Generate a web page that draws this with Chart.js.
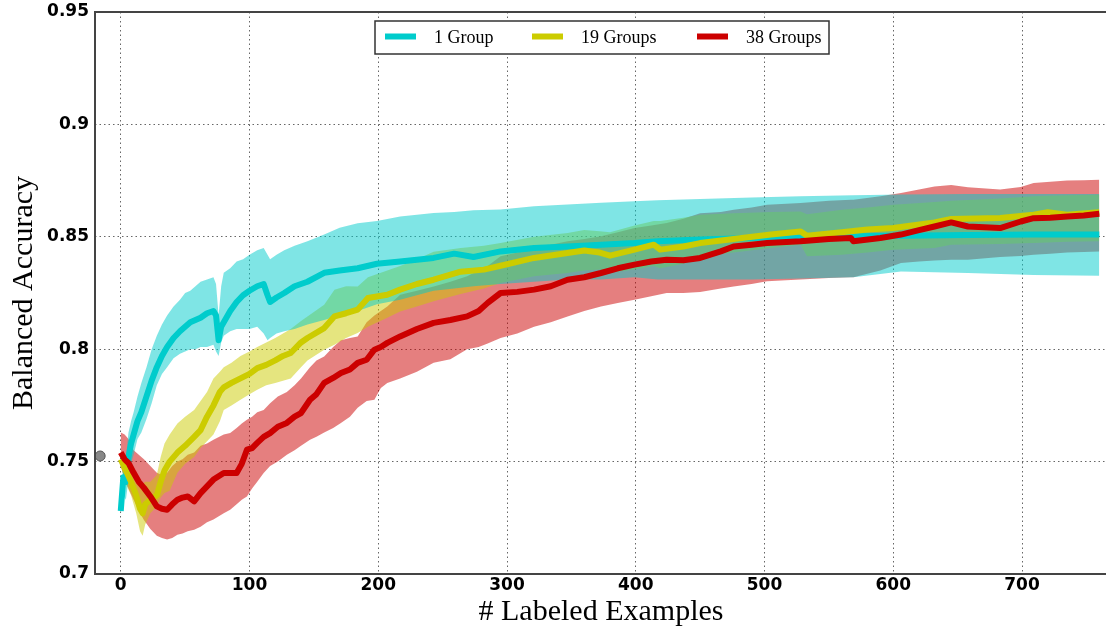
<!DOCTYPE html>
<html>
<head>
<meta charset="utf-8">
<title>Balanced Accuracy</title>
<script src="https://cdn.jsdelivr.net/npm/chart.js@4.4.0/dist/chart.umd.min.js"></script>
<style>
html, body { margin: 0; padding: 0; background: #fff; overflow: hidden; }
#wrap { width: 1106px; height: 630px; overflow: hidden; }
</style>
</head>
<body>
<!-- the original figure is cut off at its right edge, so the canvas runs a few px past the window -->
<div id="wrap"><canvas id="accChart" width="1113" height="630"></canvas></div>
<script>
// values
var xTicks = [0, 100, 200, 300, 400, 500, 600, 700];
var yTicks = [0.7, 0.75, 0.8, 0.85, 0.9, 0.95];
var seriesNames = ['1 Group', '19 Groups', '38 Groups'];

// 1 Group
var oneX    = [0, 2, 4, 6, 8, 10, 13, 16, 20, 24, 28, 32, 36, 41, 46, 50, 54, 58, 62, 67, 72, 74, 76, 78, 80, 85, 90, 95, 100, 106, 111, 114, 116, 121, 127, 135, 145, 158, 170, 184, 199, 217, 243, 259, 274, 295, 321, 347, 373, 399, 417, 450, 490, 528, 569, 606, 658, 709, 760];
var oneMean = [0.728, 0.743, 0.741, 0.752, 0.758, 0.762, 0.768, 0.772, 0.779, 0.786, 0.792, 0.797, 0.801, 0.805, 0.808, 0.810, 0.812, 0.813, 0.814, 0.816, 0.817, 0.815, 0.804, 0.810, 0.812, 0.817, 0.821, 0.824, 0.826, 0.828, 0.829, 0.824, 0.821, 0.823, 0.825, 0.828, 0.830, 0.834, 0.835, 0.836, 0.838, 0.839, 0.8406, 0.8425, 0.841, 0.8435, 0.845, 0.8457, 0.8465, 0.8472, 0.848, 0.8488, 0.8495, 0.850, 0.8503, 0.8505, 0.8508, 0.851, 0.851];
var oneLow  = [0.726, 0.735, 0.733, 0.742, 0.749, 0.753, 0.760, 0.763, 0.769, 0.776, 0.784, 0.789, 0.792, 0.796, 0.798, 0.799, 0.800, 0.800, 0.801, 0.801, 0.802, 0.799, 0.797, 0.803, 0.806, 0.808, 0.809, 0.809, 0.809, 0.810, 0.807, 0.804, 0.805, 0.807, 0.808, 0.809, 0.811, 0.813, 0.815, 0.817, 0.820, 0.822, 0.826, 0.827, 0.828, 0.829, 0.830, 0.831, 0.831, 0.832, 0.831, 0.831, 0.831, 0.8315, 0.832, 0.8346, 0.8339, 0.833, 0.8327];
var oneHigh = [0.731, 0.750, 0.752, 0.763, 0.768, 0.772, 0.779, 0.785, 0.792, 0.800, 0.806, 0.811, 0.815, 0.819, 0.822, 0.825, 0.826, 0.828, 0.830, 0.831, 0.832, 0.829, 0.815, 0.828, 0.834, 0.836, 0.839, 0.840, 0.842, 0.844, 0.845, 0.842, 0.840, 0.842, 0.844, 0.846, 0.848, 0.851, 0.854, 0.856, 0.857, 0.859, 0.8606, 0.861, 0.8618, 0.8621, 0.8636, 0.8644, 0.8651, 0.8658, 0.8663, 0.8668, 0.8675, 0.868, 0.8685, 0.8688, 0.869, 0.869, 0.869];

// 19 Groups
var nineteenX    = [0, 4, 8, 12, 15, 17, 19, 23, 28, 31, 34, 38, 44, 50, 57, 62, 67, 72, 77, 80, 86, 93, 100, 106, 113, 120, 126, 132, 140, 145, 158, 166, 175, 184, 192, 207, 217, 230, 243, 264, 282, 295, 321, 347, 360, 372, 380, 399, 414, 419, 437, 450, 476, 505, 528, 533, 560, 580, 600, 632, 645, 683, 709, 720, 735, 760];
var nineteenMean = [0.751, 0.746, 0.741, 0.735, 0.729, 0.727, 0.731, 0.733, 0.735, 0.741, 0.746, 0.750, 0.754, 0.757, 0.761, 0.764, 0.770, 0.775, 0.781, 0.783, 0.785, 0.787, 0.789, 0.7916, 0.793, 0.795, 0.797, 0.7983, 0.803, 0.805, 0.8094, 0.8146, 0.816, 0.8176, 0.8228, 0.8242, 0.8265, 0.829, 0.8309, 0.8345, 0.8354, 0.8371, 0.8406, 0.8428, 0.8439, 0.843, 0.8416, 0.8443, 0.8465, 0.8443, 0.8457, 0.8472, 0.849, 0.851, 0.8524, 0.8505, 0.852, 0.8532, 0.8539, 0.8564, 0.8579, 0.8584, 0.8598, 0.8609, 0.8598, 0.8609];
var nineteenLow  = [0.748, 0.740, 0.735, 0.727, 0.719, 0.717, 0.722, 0.727, 0.730, 0.734, 0.736, 0.737, 0.745, 0.749, 0.752, 0.756, 0.759, 0.762, 0.768, 0.773, 0.775, 0.7775, 0.780, 0.782, 0.784, 0.785, 0.786, 0.787, 0.792, 0.795, 0.7998, 0.802, 0.805, 0.8072, 0.810, 0.814, 0.8168, 0.819, 0.8213, 0.8245, 0.827, 0.8294, 0.8324, 0.8339, 0.835, 0.8354, 0.834, 0.8354, 0.837, 0.836, 0.838, 0.8413, 0.843, 0.845, 0.8465, 0.8413, 0.842, 0.843, 0.8442, 0.845, 0.8465, 0.8468, 0.8472, 0.8475, 0.8478, 0.848];
var nineteenHigh = [0.754, 0.752, 0.748, 0.745, 0.741, 0.740, 0.741, 0.741, 0.744, 0.752, 0.758, 0.762, 0.767, 0.770, 0.773, 0.777, 0.781, 0.787, 0.790, 0.792, 0.794, 0.797, 0.799, 0.801, 0.803, 0.805, 0.807, 0.809, 0.8125, 0.8146, 0.8198, 0.8265, 0.828, 0.8279, 0.832, 0.835, 0.837, 0.840, 0.8434, 0.845, 0.846, 0.8472, 0.850, 0.8517, 0.853, 0.8525, 0.852, 0.855, 0.857, 0.857, 0.8585, 0.8598, 0.8605, 0.861, 0.8613, 0.860, 0.862, 0.863, 0.8643, 0.8655, 0.866, 0.867, 0.868, 0.8683, 0.8685, 0.8687];

// 38 Groups
var thirtyEightX    = [0, 3, 6, 10, 14, 18, 23, 28, 32, 36, 40, 44, 48, 52, 57, 62, 67, 72, 80, 85, 90, 94, 98, 102, 106, 111, 116, 122, 129, 135, 140, 147, 152, 158, 165, 171, 178, 184, 191, 197, 202, 207, 217, 230, 243, 256, 269, 278, 285, 295, 308, 321, 334, 347, 360, 373, 386, 399, 412, 424, 437, 450, 466, 476, 490, 502, 528, 550, 567, 569, 590, 606, 620, 632, 645, 658, 683, 699, 709, 722, 735, 748, 760];
var thirtyEightMean = [0.754, 0.751, 0.7494, 0.745, 0.741, 0.7383, 0.7345, 0.7301, 0.729, 0.7286, 0.731, 0.733, 0.734, 0.7345, 0.7323, 0.736, 0.739, 0.742, 0.7449, 0.7449, 0.7449, 0.749, 0.7553, 0.756, 0.7583, 0.761, 0.7627, 0.7655, 0.7672, 0.770, 0.7716, 0.7775, 0.780, 0.785, 0.7872, 0.7894, 0.791, 0.7939, 0.7953, 0.7998, 0.801, 0.8028, 0.8057, 0.809, 0.8117, 0.813, 0.8146, 0.817, 0.8206, 0.825, 0.8255, 0.8265, 0.828, 0.8309, 0.832, 0.8339, 0.836, 0.8376, 0.839, 0.8398, 0.8396, 0.8406, 0.8435, 0.8457, 0.8465, 0.8472, 0.848, 0.849, 0.8495, 0.848, 0.8495, 0.851, 0.853, 0.8546, 0.8564, 0.8546, 0.8539, 0.8568, 0.8583, 0.8585, 0.859, 0.8595, 0.8603];
var thirtyEightLow  = [0.748, 0.742, 0.738, 0.733, 0.728, 0.724, 0.720, 0.717, 0.716, 0.7153, 0.716, 0.7175, 0.718, 0.719, 0.7197, 0.721, 0.723, 0.7242, 0.727, 0.7286, 0.731, 0.733, 0.7345, 0.738, 0.741, 0.7449, 0.748, 0.750, 0.753, 0.755, 0.757, 0.7597, 0.761, 0.763, 0.765, 0.7672, 0.770, 0.774, 0.777, 0.7775, 0.7827, 0.785, 0.787, 0.790, 0.794, 0.7955, 0.800, 0.801, 0.8025, 0.805, 0.807, 0.810, 0.812, 0.8146, 0.817, 0.819, 0.8205, 0.822, 0.8235, 0.825, 0.825, 0.8255, 0.827, 0.8279, 0.829, 0.8302, 0.831, 0.8317, 0.832, 0.832, 0.835, 0.8383, 0.839, 0.8395, 0.8398, 0.8398, 0.841, 0.8415, 0.842, 0.8425, 0.843, 0.8432, 0.8435];
var thirtyEightHigh = [0.763, 0.762, 0.760, 0.755, 0.753, 0.751, 0.748, 0.745, 0.744, 0.745, 0.748, 0.750, 0.751, 0.753, 0.754, 0.757, 0.758, 0.7597, 0.762, 0.7627, 0.765, 0.767, 0.7686, 0.770, 0.772, 0.773, 0.776, 0.779, 0.781, 0.784, 0.787, 0.792, 0.795, 0.7968, 0.801, 0.804, 0.805, 0.8057, 0.812, 0.815, 0.817, 0.819, 0.8242, 0.826, 0.8279, 0.830, 0.8324, 0.835, 0.837, 0.8413, 0.843, 0.845, 0.8465, 0.848, 0.849, 0.8502, 0.852, 0.8539, 0.855, 0.8561, 0.858, 0.8605, 0.861, 0.862, 0.863, 0.8643, 0.865, 0.866, 0.8665, 0.8665, 0.868, 0.8695, 0.871, 0.8724, 0.873, 0.872, 0.871, 0.8722, 0.8739, 0.8745, 0.875, 0.8752, 0.8754];

// single gray baseline point left of zero
var baselineX = [-16];
var baselineY = [0.7525];

var lineColors = ['#00cccc', '#cccc00', '#cc0000'];
var bandColors = ['rgba(0,204,204,0.5)', 'rgba(204,204,0,0.5)', 'rgba(204,0,0,0.5)'];

function pts(xs, ys) {
	return xs.map(function (x, i) { return { x: x, y: ys[i] }; });
}

function bandEdge(xs, ys, fillColor) {
	return {
		data: pts(xs, ys),
		borderWidth: 0,
		borderColor: 'rgba(0,0,0,0)',
		backgroundColor: fillColor || 'rgba(0,0,0,0)',
		pointRadius: 0,
		fill: fillColor ? '-1' : false,
		order: 10
	};
}

function meanLine(label, xs, ys, color, order) {
	return {
		label: label,
		data: pts(xs, ys),
		borderColor: color,
		backgroundColor: color,
		borderWidth: 6,
		borderJoinStyle: 'round',
		pointRadius: 0,
		fill: false,
		tension: 0,
		order: order,
		isSeries: true
	};
}

var datasets = [
	bandEdge(oneX, oneLow),
	bandEdge(oneX, oneHigh, bandColors[0]),
	bandEdge(nineteenX, nineteenLow),
	bandEdge(nineteenX, nineteenHigh, bandColors[1]),
	bandEdge(thirtyEightX, thirtyEightLow),
	bandEdge(thirtyEightX, thirtyEightHigh, bandColors[2]),
	meanLine(seriesNames[0], oneX, oneMean, lineColors[0], 3),
	meanLine(seriesNames[1], nineteenX, nineteenMean, lineColors[1], 2),
	meanLine(seriesNames[2], thirtyEightX, thirtyEightMean, lineColors[2], 1),
	{
		data: pts(baselineX, baselineY),
		showLine: false,
		pointRadius: 5,
		pointBackgroundColor: '#888888',
		pointBorderColor: '#555555',
		pointBorderWidth: 1,
		order: 0
	}
];

// frame: left, top, bottom (right side is cut off in the original)
var framePlugin = {
	id: 'framePlugin',
	afterDraw: function (chart) {
		var a = chart.chartArea, ctx = chart.ctx;
		ctx.save();
		ctx.strokeStyle = '#444';
		ctx.lineWidth = 2;
		ctx.beginPath();
		ctx.moveTo(chart.width, a.top);
		ctx.lineTo(a.left, a.top);
		ctx.lineTo(a.left, a.bottom);
		ctx.lineTo(chart.width, a.bottom);
		ctx.stroke();
		ctx.restore();
	}
};

// boxed legend inside the plot, as in the figure
var boxLegend = {
	id: 'boxLegend',
	afterDraw: function (chart) {
		var ctx = chart.ctx;
		var items = chart.data.datasets.filter(function (d) { return d.isSeries; });
		var lineStarts = [385, 532, 697];
		ctx.save();
		ctx.fillStyle = '#fff';
		ctx.fillRect(375, 21, 454, 33);
		ctx.strokeStyle = '#333';
		ctx.lineWidth = 1.5;
		ctx.strokeRect(375, 21, 454, 33);
		ctx.font = '18px "Liberation Serif", "Times New Roman", serif';
		ctx.textBaseline = 'alphabetic';
		items.forEach(function (d, i) {
			ctx.strokeStyle = d.borderColor;
			ctx.lineWidth = 6;
			ctx.beginPath();
			ctx.moveTo(lineStarts[i], 36.5);
			ctx.lineTo(lineStarts[i] + 31, 36.5);
			ctx.stroke();
			ctx.fillStyle = '#000';
			ctx.fillText(d.label, lineStarts[i] + 49, 43);
		});
		ctx.restore();
	}
};

var tickFont = { family: '"DejaVu Sans", sans-serif', size: 17, weight: 'bold' };
var titleFont = { family: '"Liberation Serif", "Times New Roman", serif', size: 30, weight: 'normal' };

var ctx = document.getElementById('accChart').getContext('2d');
var accChart = new Chart(ctx, {
	type: 'line',
	data: { datasets: datasets },
	options: {
		responsive: false,
		animation: false,
		devicePixelRatio: 1,
		layout: { padding: { top: 12, right: 0, bottom: 0, left: 0 } },
		plugins: {
			legend: { display: false },
			tooltip: { enabled: false },
			filler: { drawTime: 'beforeDatasetsDraw' }
		},
		scales: {
			x: {
				type: 'linear',
				min: -20,
				max: 766,
				afterBuildTicks: function (scale) {
					scale.ticks = xTicks.map(function (v) { return { value: v }; });
				},
				afterFit: function (scale) {
					scale.height = 56;
					scale.paddingLeft = 0;
					scale.paddingRight = 0;
				},
				ticks: {
					font: tickFont,
					color: '#000',
					padding: 1,
					maxRotation: 0,
					callback: function (v) { return String(v); }
				},
				grid: { color: 'rgba(0,0,0,0.6)', lineWidth: 1, drawTicks: false },
				border: { display: false, dash: [1.5, 3] },
				title: { display: true, text: '# Labeled Examples', font: titleFont, color: '#000', padding: { top: 0, bottom: 0 } }
			},
			y: {
				type: 'linear',
				min: 0.7,
				max: 0.95,
				afterBuildTicks: function (scale) {
					scale.ticks = yTicks.map(function (v) { return { value: v }; });
				},
				afterFit: function (scale) {
					scale.width = 95;
					scale.paddingTop = 0;
					scale.paddingBottom = 0;
				},
				ticks: {
					font: tickFont,
					color: '#000',
					padding: 6,
					callback: function (v) { return String(v); }
				},
				grid: { color: 'rgba(0,0,0,0.6)', lineWidth: 1, drawTicks: false },
				border: { display: false, dash: [1.5, 3] },
				title: { display: true, text: 'Balanced Accuracy', font: titleFont, color: '#000', padding: { top: 6, bottom: 0 } }
			}
		}
	},
	plugins: [framePlugin, boxLegend]
});
</script>
</body>
</html>
